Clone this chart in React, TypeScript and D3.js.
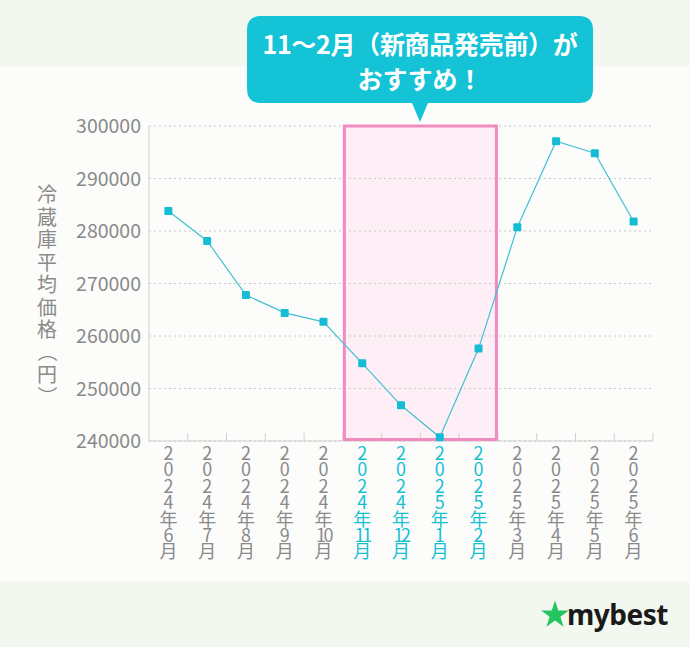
import React from "react";
import * as d3 from "d3";

const months = [
  "2024年6月", "2024年7月", "2024年8月", "2024年9月", "2024年10月",
  "2024年11月", "2024年12月", "2025年1月", "2025年2月",
  "2025年3月", "2025年4月", "2025年5月", "2025年6月",
];
const prices = [
  283800, 278100, 267800, 264400, 262700,
  254800, 246800, 240700, 257600,
  280700, 297100, 294800, 281800,
];
const highlighted = ["2024年11月", "2024年12月", "2025年1月", "2025年2月"];
const yTicks = [240000, 250000, 260000, 270000, 280000, 290000, 300000];
const yTitle = "冷蔵庫平均価格（円）";
const calloutLines = ["11〜2月（新商品発売前）が", "おすすめ！"];

const W = 690;
const H = 647;
const left = 149;
const right = 653;
const top = 126;
const bottom = 441;
const FONT = "'Noto Sans CJK JP', 'Noto Sans', sans-serif";

function splitLabel(s: string): string[] {
  const m = s.match(/^(\d{4})年(\d+)月$/);
  if (!m) return s.split("");
  return [...m[1].split(""), "年", m[2], "月"];
}

export default function App() {
  const x = d3.scaleBand<string>().domain(months).range([left, right]).padding(0);
  const y = d3.scaleLinear().domain([240000, 300000]).range([bottom, top]);
  const cx = (m: string) => (x(m) as number) + x.bandwidth() / 2;
  const line = d3
    .line<number>()
    .x((_, i) => cx(months[i]))
    .y((d) => y(d));

  const hlStart = x(highlighted[0]) as number;
  const hlEnd = (x(highlighted[highlighted.length - 1]) as number) + x.bandwidth();

  const gray = "#8a8a8a";
  const teal = "#17bfd3";

  const bx = 247, by = 16, bw = 346, bh = 87;
  const tipX = 420;

  // y-title character centres (rotation centres for the parentheses)
  const titleChars = yTitle.split("");
  const titleY: number[] = titleChars.map((c, i) => {
    if (c === "（") return 352;
    if (c === "円") return 375;
    if (c === "）") return 396;
    return 195 + i * 22.5;
  });

  return (
    <svg width={W} height={H} style={{ position: "absolute", left: 0, top: 0, display: "block" }}>
      <rect x={0} y={0} width={W} height={H} fill="#fcfdfb" />
      <rect x={0} y={0} width={W} height={66} fill="#f2f7f0" />
      <rect x={0} y={582} width={W} height={H - 582} fill="#f2f7f0" />

      {/* highlight band */}
      <rect x={hlStart + 1.5} y={top} width={hlEnd - hlStart - 3} height={bottom - top - 1.5}
        fill="#fdeff5" />

      {/* gridlines */}
      {yTicks.map((t) => (
        <line key={t} x1={left} x2={right} y1={y(t)} y2={y(t)}
          stroke="#c8c8c8" strokeWidth={1} strokeDasharray="2,3" />
      ))}

      {/* axes */}
      <line x1={left} x2={left} y1={top} y2={bottom} stroke="#cfcfcf" strokeWidth={1} />
      <line x1={left} x2={right} y1={bottom} y2={bottom} stroke="#cfcfcf" strokeWidth={1} />
      {months.map((m) => (
        <line key={"tk" + m} x1={(x(m) as number) + x.bandwidth()} x2={(x(m) as number) + x.bandwidth()}
          y1={bottom - 8} y2={bottom} stroke="#cfcfcf" strokeWidth={1} />
      ))}

      {/* highlight border */}
      <rect x={hlStart + 1.5} y={top} width={hlEnd - hlStart - 3} height={bottom - top - 1.5}
        fill="none" stroke="#f08cbf" strokeWidth={3} />

      {/* y tick labels */}
      {yTicks.map((t) => (
        <text key={"yl" + t} x={141} y={y(t)} dy="0.36em" textAnchor="end"
          fontFamily={FONT} fontSize={19.5} fill={gray}>{t}</text>
      ))}

      {/* y title: stacked characters, parentheses rotated */}
      <g fontFamily={FONT} fontSize={20} fill={gray}>
        {titleChars.map((c, i) => {
          const isParen = c === "（" || c === "）";
          return (
            <text key={"yt" + i} x={47} y={titleY[i]} textAnchor="middle" dy="0.36em"
              transform={isParen ? `rotate(90 47 ${titleY[i]})` : undefined}>{c}</text>
          );
        })}
      </g>

      {/* x labels */}
      {months.map((m) => {
        const hl = highlighted.includes(m);
        return (
          <text key={"xl" + m} fontFamily={FONT} fontSize={18} fill={hl ? teal : gray} textAnchor="middle">
            {splitLabel(m).map((c, i) => (
              <tspan key={i} x={cx(m)} y={460 + i * 16.4}
                letterSpacing={c.length > 1 ? -2.5 : 0}>{c}</tspan>
            ))}
          </text>
        );
      })}

      {/* line */}
      <path d={line(prices) as string} fill="none" stroke="#40c0d4" strokeWidth={1.2} />
      {prices.map((p, i) => (
        <rect key={"pt" + i} x={cx(months[i]) - 4} y={y(p) - 4} width={8} height={8} rx={1}
          fill="#14bdd4" />
      ))}

      {/* callout */}
      <path
        d={`M${bx + 14},${by} H${bx + bw - 14} Q${bx + bw},${by} ${bx + bw},${by + 14} V${by + bh - 14} Q${bx + bw},${by + bh} ${bx + bw - 14},${by + bh} H${tipX + 8} L${tipX},${122} L${tipX - 8},${by + bh} H${bx + 14} Q${bx},${by + bh} ${bx},${by + bh - 14} V${by + 14} Q${bx},${by} ${bx + 14},${by} Z`}
        fill="#14c3d6" />
      <text x={bx + bw / 2} y={45} textAnchor="middle" dy="0.36em" fontFamily={FONT}
        fontWeight={700} fontSize={25} fill="#fff" letterSpacing={-0.3}>{calloutLines[0]}</text>
      <text x={bx + bw / 2} y={80} textAnchor="middle" dy="0.36em" fontFamily={FONT}
        fontWeight={700} fontSize={25} fill="#fff">{calloutLines[1]}</text>

      {/* logo */}
      <path
        d={d3.symbol().type(d3.symbolStar).size(240)() as string}
        transform="translate(555,615)"
        fill="#22c55e" />
      <text x={567} y={615} dy="0.36em" fontFamily="'Noto Sans', sans-serif" fontWeight={700}
        fontSize={28} fill="#1a1a1a" letterSpacing={-0.5}>mybest</text>
    </svg>
  );
}
